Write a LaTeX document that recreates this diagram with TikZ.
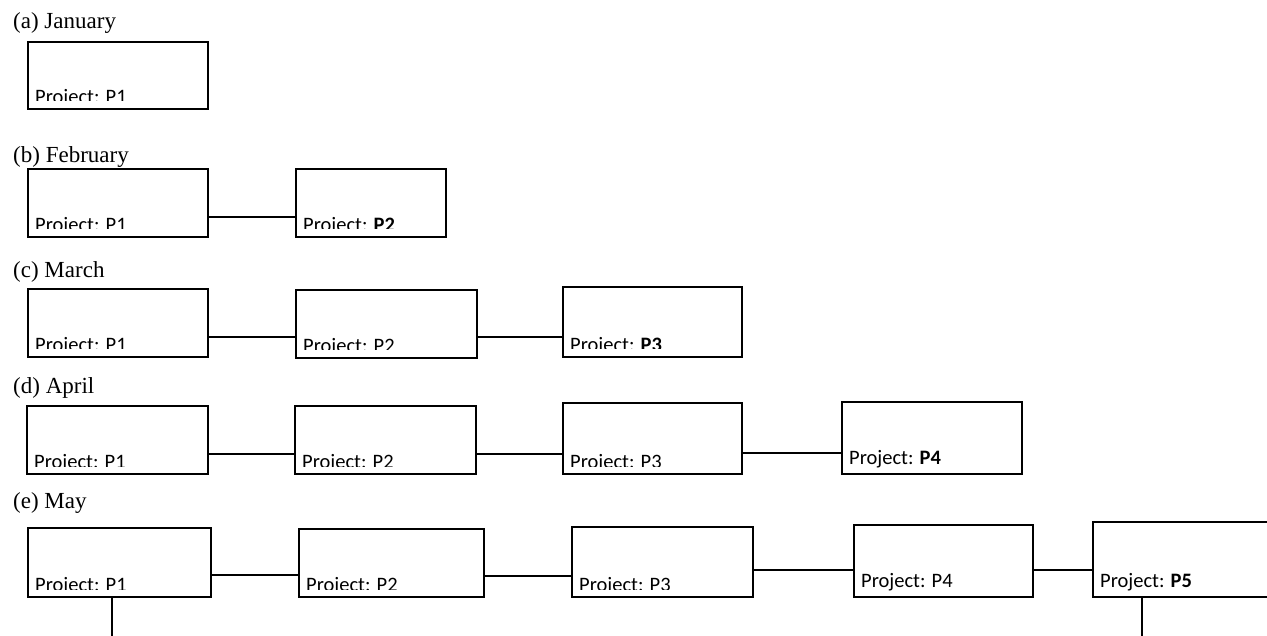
\documentclass[tikz,border=0pt]{standalone}
\usepackage{fontspec}
\setmainfont{Liberation Serif}
\newfontfamily\boxfont{Carlito}
\usetikzlibrary{calc, positioning}

% box drawn from its corners, label at the bottom left
\newcommand\pbox[6]{%
  \node[projbox, minimum width={#4pt-#2pt}, minimum height={#5pt-#3pt}] (#1) at (#2,#3) {};
  \node[projtext] (#1t) at ([shift={(7pt,10pt)}]#1.south west) {Project: #6};
}
% same, but the label is cut off near the bottom edge
\newcommand\pboxcut[6]{%
  \node[projbox, minimum width={#4pt-#2pt}, minimum height={#5pt-#3pt}] (#1) at (#2,#3) {};
  \begin{scope}
    \clip ([yshift=8pt]#1.south west) rectangle (#1.north east);
    \node[projtext] (#1t) at ([shift={(7pt,5.5pt)}]#1.south west) {Project: #6};
  \end{scope}
}

\begin{document}
\begin{tikzpicture}[
  x=1pt, y=-1pt,
  projbox/.style={draw, line width=1.5pt, inner sep=0pt, outer sep=0pt, anchor=north west},
  projtext/.style={anchor=base west, inner sep=0pt, font=\boxfont\fontsize{20.5}{24}\selectfont},
  month/.style={anchor=base west, inner sep=0pt, font=\fontsize{23}{27}\selectfont},
  link/.style={line width=1.3pt},
]
\useasboundingbox (0,0) rectangle (1267,636);

% (a)
\node[month] (la) at (13,29) {(a) January};
\pboxcut{a1}{28}{42}{208}{109}{P1}

% (b)
\node[month] (lb) at (13,163) {(b) February};
\pboxcut{b1}{28}{169}{208}{237}{P1}
\pboxcut{b2}{296}{169}{446}{237}{\textbf{P2}}
\draw[link] ([yshift=20pt]b1.south east) -- ([yshift=20pt]b1.south east -| b2.west);

% (c)
\node[month] (lc) at (13,278) {(c) March};
\pboxcut{c1}{28}{289}{208}{357}{P1}
\pboxcut{c2}{296}{290}{477}{358}{P2}
\pboxcut{c3}{563}{287}{742}{357}{\textbf{P3}}
\draw[link] ([yshift=20pt]c1.south east) -- ([yshift=20pt]c1.south east -| c2.west);
\draw[link] ([yshift=21pt]c2.south east) -- ([yshift=21pt]c2.south east -| c3.west);

% (d)
\node[month] (ld) at (13,394) {(d) April};
\pboxcut{d1}{27}{406}{208}{474}{P1}
\pboxcut{d2}{295}{406}{476}{474}{P2}
\pboxcut{d3}{563}{403}{742}{474}{P3}
\pbox{d4}{842}{402}{1022}{474}{\textbf{P4}}
\draw[link] ([yshift=20pt]d1.south east) -- ([yshift=20pt]d1.south east -| d2.west);
\draw[link] ([yshift=20pt]d2.south east) -- ([yshift=20pt]d2.south east -| d3.west);
\draw[link] ([yshift=21pt]d3.south east) -- ([yshift=21pt]d3.south east -| d4.west);

% (e)
\node[month] (le) at (13,508) {(e) May};
\pboxcut{e1}{28}{528}{211}{597}{P1}
\pboxcut{e2}{299}{529}{484}{597}{P2}
\pboxcut{e3}{572}{527}{753}{597}{P3}
\pbox{e4}{854}{525}{1033}{597}{P4}
\pbox{e5}{1093}{522}{1280}{597}{\textbf{P5}}
\draw[link] ([yshift=22pt]e1.south east) -- ([yshift=22pt]e1.south east -| e2.west);
\draw[link] ([yshift=21pt]e2.south east) -- ([yshift=21pt]e2.south east -| e3.west);
\draw[link] ([yshift=27pt]e3.south east) -- ([yshift=27pt]e3.south east -| e4.west);
\draw[link] ([yshift=27pt]e4.south east) -- ([yshift=27pt]e4.south east -| e5.west);
\coordinate (e1down) at (112,636);
\coordinate (e5down) at (1142,636);
\draw[link] (e1.south -| e1down) -- (e1down);
\draw[link] (e5.south -| e5down) -- (e5down);
\end{tikzpicture}
\end{document}
